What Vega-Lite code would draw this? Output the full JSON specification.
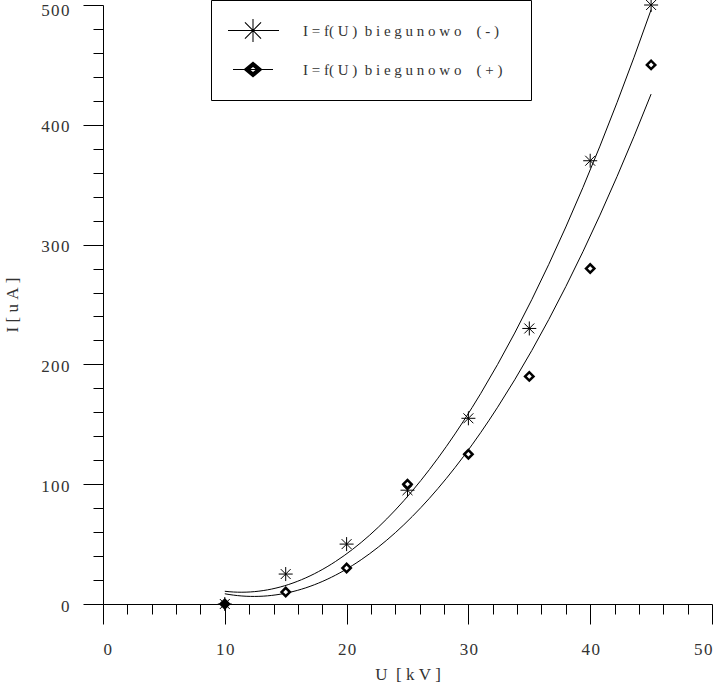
{
  "$schema": "https://vega.github.io/schema/vega-lite/v6.json",
  "width": 609,
  "height": 599,
  "autosize": "none",
  "padding": {"left": 103, "top": 5, "right": 5, "bottom": 82},
  "background": "white",
  "config": {
    "view": {"stroke": null},
    "axis": {
      "domainColor": "black",
      "tickColor": "black",
      "labelColor": "#333",
      "titleColor": "#333",
      "labelFont": "Liberation Serif",
      "titleFont": "Liberation Serif",
      "grid": false,
      "domainWidth": 1,
      "tickWidth": 1
    }
  },
  "data": {
    "values": [
      {"U": 10, "I": 0, "series": "I=f(U) biegunowo (-)"},
      {"U": 15, "I": 25, "series": "I=f(U) biegunowo (-)"},
      {"U": 20, "I": 50, "series": "I=f(U) biegunowo (-)"},
      {"U": 25, "I": 95, "series": "I=f(U) biegunowo (-)"},
      {"U": 30, "I": 155, "series": "I=f(U) biegunowo (-)"},
      {"U": 35, "I": 230, "series": "I=f(U) biegunowo (-)"},
      {"U": 40, "I": 370, "series": "I=f(U) biegunowo (-)"},
      {"U": 45, "I": 500, "series": "I=f(U) biegunowo (-)"},
      {"U": 10, "I": 0, "series": "I=f(U) biegunowo (+)"},
      {"U": 15, "I": 10, "series": "I=f(U) biegunowo (+)"},
      {"U": 20, "I": 30, "series": "I=f(U) biegunowo (+)"},
      {"U": 25, "I": 100, "series": "I=f(U) biegunowo (+)"},
      {"U": 30, "I": 125, "series": "I=f(U) biegunowo (+)"},
      {"U": 35, "I": 190, "series": "I=f(U) biegunowo (+)"},
      {"U": 40, "I": 280, "series": "I=f(U) biegunowo (+)"},
      {"U": 45, "I": 450, "series": "I=f(U) biegunowo (+)"}
    ]
  },
  "layer": [
    {
      "transform": [
        {"regression": "I", "on": "U", "groupby": ["series"], "method": "poly", "order": 2, "extent": [10, 45]}
      ],
      "mark": {"type": "line", "stroke": "black", "strokeWidth": 1},
      "encoding": {
        "x": {
          "field": "U", "type": "quantitative",
          "scale": {"domain": [0, 50], "nice": false, "zero": false},
          "axis": {"orient": "bottom", "values": [2, 4, 6, 8, 12, 14, 16, 18, 22, 24, 26, 28, 32, 34, 36, 38, 42, 44, 46, 48], "tickSize": 10, "labels": false, "domain": false, "title": null}
        },
        "y": {
          "field": "I", "type": "quantitative",
          "scale": {"domain": [0, 500], "nice": false},
          "axis": {"orient": "left", "values": [20, 40, 60, 80, 120, 140, 160, 180, 220, 240, 260, 280, 320, 340, 360, 380, 420, 440, 460, 480], "tickSize": 10, "labels": false, "domain": false, "title": null}
        },
        "detail": {"field": "series", "type": "nominal"}
      }
    },
    {
      "mark": {"type": "point", "opacity": 1},
      "encoding": {
        "x": {
          "field": "U", "type": "quantitative",
          "axis": {"orient": "bottom", "values": [0, 10, 20, 30, 40, 50], "tickSize": 20, "labelPadding": 17, "labelFontSize": 17, "labelExpr": "join(split(datum.label, ''), '\u200a')", "title": "U\u00a0\u00a0[\u00a0k\u00a0V\u00a0]", "titleFontSize": 17, "titleFontWeight": "normal", "titlePadding": 9}
        },
        "y": {
          "field": "I", "type": "quantitative",
          "axis": {"orient": "left", "values": [0, 100, 200, 300, 400, 500], "tickSize": 20, "labelPadding": 14, "labelOffset": {"condition": {"test": "datum.value == 500", "value": 5}, "value": 2}, "labelFontSize": 17, "labelExpr": "join(split(datum.label, ''), '\u200a')", "title": "I\u00a0[\u00a0u\u00a0A\u00a0]", "titleFontSize": 17, "titleFontWeight": "normal", "titlePadding": 19}
        },
        "shape": {"condition": {"test": "datum.series == 'I=f(U) biegunowo (-)'", "value": "M-1,0H1M0,-1V1M-0.71,-0.71L0.71,0.71M-0.71,0.71L0.71,-0.71"}, "value": "diamond"},
        "size": {"condition": {"test": "datum.series == 'I=f(U) biegunowo (-)'", "value": 196}, "value": 70},
        "strokeWidth": {"condition": {"test": "datum.series == 'I=f(U) biegunowo (-)'", "value": 1}, "value": 2.5},
        "fill": {"condition": {"test": "datum.U == 10", "value": "black"}, "value": "white"},
        "stroke": {"value": "black"}
      }
    },
    {
      "mark": {"type": "point", "opacity": 0, "filled": true, "color": "black"},
      "encoding": {
        "x": {"field": "U", "type": "quantitative", "axis": null},
        "y": {"field": "I", "type": "quantitative", "axis": null},
        "shape": {
          "field": "series", "type": "nominal",
          "scale": {
            "domain": ["I=f(U) biegunowo (-)", "I=f(U) biegunowo (+)"],
            "range": [
              "M-2.26,-0.045H2.26V0.045H-2.26ZM-0.045,-1H0.045V1H-0.045ZM-0.665,-0.735L0.735,0.665L0.665,0.735L-0.735,-0.665ZM-0.665,0.735L-0.735,0.665L0.665,-0.735L0.735,-0.665Z",
              "M-1.74,-0.045H1.74V0.045H-1.74ZM-0.83,0L0,-0.7L0.83,0L0,0.7ZM-0.26,0L0,0.22L0.26,0L0,-0.22Z"
            ]
          },
          "legend": {
            "orient": "none",
            "legendX": 108,
            "legendY": -5,
            "title": null,
            "strokeColor": "black",
            "fillColor": "white",
            "padding": 17,
            "clipHeight": 27,
            "symbolSize": 529,
            "symbolOffset": 13.5,
            "labelOffset": 38.5,
            "rowPadding": 12,
            "symbolOpacity": 1,
            "labelFont": "Liberation Serif",
            "labelFontSize": 15,
            "labelColor": "#333",
            "labelLimit": 400,
            "symbolStrokeColor": "black",
            "symbolFillColor": "black",
            "symbolStrokeWidth": 0,
            "labelExpr": "datum.value == 'I=f(U) biegunowo (-)' ? 'I\u00a0=\u00a0f(\u00a0U\u00a0)\u00a0\u00a0b\u00a0i\u00a0e\u00a0g\u00a0u\u00a0n\u00a0o\u00a0w\u00a0o\u00a0\u00a0\u00a0\u00a0(\u00a0-\u00a0)\u2800' : 'I\u00a0=\u00a0f(\u00a0U\u00a0)\u00a0\u00a0b\u00a0i\u00a0e\u00a0g\u00a0u\u00a0n\u00a0o\u00a0w\u00a0o\u00a0\u00a0\u00a0\u00a0(\u00a0+\u00a0)\u2800'",
            "encode": {
              "symbols": {
                "update": {
                  "opacity": {"value": 1},
                  "fill": {"value": "black"},
                  "size": {"value": 529}
                }
              }
            }
          }
        }
      }
    }
  ],
  "resolve": {"axis": {"x": "independent", "y": "independent"}}
}
